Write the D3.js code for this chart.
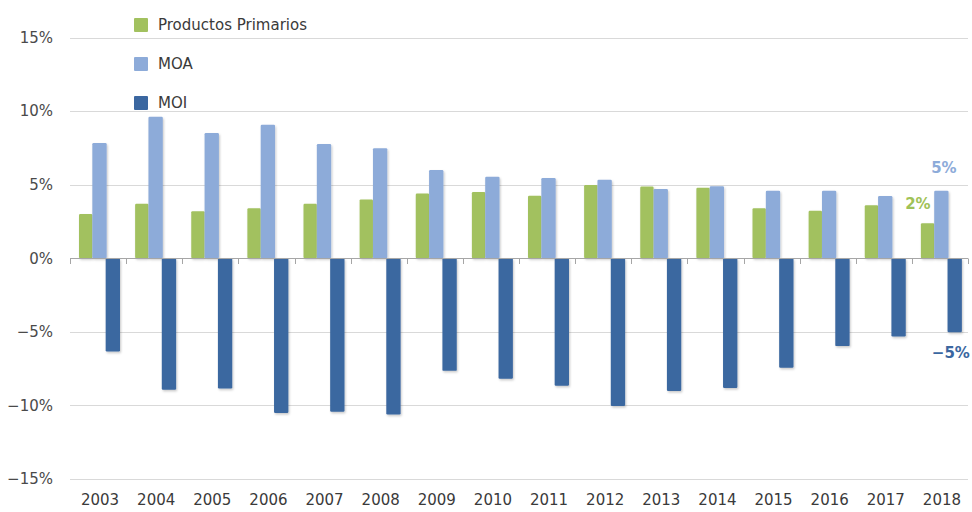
<!DOCTYPE html>
<html>
<head>
<meta charset="utf-8">
<script src="https://cdn.jsdelivr.net/npm/d3@7"></script>
<style>
  html, body { margin: 0; padding: 0; background: #fff; }
  svg { display: block; font-family: "DejaVu Sans", sans-serif; }
</style>
</head>
<body>
<svg id="chart" width="972" height="512"></svg>
<script>
const years = ["2003","2004","2005","2006","2007","2008","2009","2010","2011","2012","2013","2014","2015","2016","2017","2018"];
const seriesNames = ["Productos Primarios", "MOA", "MOI"];
const primarios = [3.0, 3.7, 3.2, 3.4, 3.7, 4.0, 4.4, 4.5, 4.25, 4.97, 4.88, 4.79, 3.39, 3.23, 3.6, 2.37];
const moa = [7.83, 9.61, 8.51, 9.07, 7.76, 7.48, 5.99, 5.54, 5.45, 5.33, 4.7, 4.89, 4.59, 4.59, 4.23, 4.59];
const moi = [-6.34, -8.93, -8.85, -10.52, -10.43, -10.61, -7.65, -8.19, -8.66, -10.04, -9.02, -8.82, -7.44, -5.97, -5.32, -5.02];
const yTicks = [-15, -10, -5, 0, 5, 10, 15];
const endLabels = [
  {series: "MOA", text: "5%"},
  {series: "Productos Primarios", text: "2%"},
  {series: "MOI", text: "\u22125%"}
];

const colors = {"Productos Primarios": "#a2c15f", "MOA": "#8dabd9", "MOI": "#3b67a0"};
const labelColors = {"Productos Primarios": "#9fc257", "MOA": "#8dabd9", "MOI": "#3b67a0"};
const values = {"Productos Primarios": primarios, "MOA": moa, "MOI": moi};

const svg = d3.select("#chart");
const defs = svg.append("defs");
const f = defs.append("filter").attr("id", "sh").attr("x", "-20%").attr("y", "-20%").attr("width", "150%").attr("height", "150%");
f.append("feDropShadow").attr("dx", 1).attr("dy", 1.5).attr("stdDeviation", 1.2).attr("flood-color", "#000").attr("flood-opacity", 0.22);

const x0 = d3.scaleBand().domain(years).range([70, 968]).padding(0);
const x1 = d3.scaleBand().domain(seriesNames).range([9, 49]).padding(0);
const y = d3.scaleLinear().domain([-15, 15]).range([479, 37.5]);

// gridlines
svg.append("g").selectAll("line").data(yTicks.filter(d => d !== 0)).join("line")
  .attr("x1", 70).attr("x2", 968)
  .attr("y1", d => Math.round(y(d)) + 0.5).attr("y2", d => Math.round(y(d)) + 0.5)
  .attr("stroke", "#d9d9d9").attr("stroke-width", 1);

// y labels
svg.append("g").selectAll("text").data(yTicks).join("text")
  .attr("x", 53).attr("y", d => y(d)).attr("dy", "0.35em")
  .attr("text-anchor", "end").attr("font-size", 15).attr("fill", "#4a4a4a")
  .text(d => (d < 0 ? "\u2212" + Math.abs(d) : d) + "%");

// bars
const groups = svg.append("g").selectAll("g").data(years).join("g")
  .attr("transform", d => `translate(${x0(d)},0)`);
groups.selectAll("rect").data((d, i) => seriesNames.map(s => ({s, v: values[s][i]}))).join("rect")
  .attr("x", d => x1(d.s))
  .attr("width", d => x1.bandwidth() + (d.s === "Productos Primarios" ? 0 : 1))
  .attr("y", d => d.v >= 0 ? y(d.v) : y(0))
  .attr("height", d => Math.abs(y(d.v) - y(0)))
  .attr("rx", 1.2)
  .attr("fill", d => colors[d.s])
  .attr("filter", "url(#sh)");

// zero axis line and ticks
svg.append("line").attr("x1", 70).attr("x2", 968).attr("y1", Math.round(y(0)) + 0.5).attr("y2", Math.round(y(0)) + 0.5)
  .attr("stroke", "#a6a6a6").attr("stroke-width", 1);
const tickPos = years.map(d => x0(d)).concat([968]);
svg.append("g").selectAll("line").data(tickPos).join("line")
  .attr("x1", d => Math.round(d) + 0.5).attr("x2", d => Math.round(d) + 0.5)
  .attr("y1", Math.round(y(0)) + 0.5).attr("y2", Math.round(y(0)) + 6)
  .attr("stroke", "#a6a6a6").attr("stroke-width", 1);

// x labels
svg.append("g").selectAll("text").data(years).join("text")
  .attr("x", d => x0(d) + x0.bandwidth() / 2 + 2).attr("y", 505)
  .attr("text-anchor", "middle").attr("font-size", 15).attr("fill", "#3a3a3a")
  .text(d => d);

// legend
const legend = svg.append("g").selectAll("g").data(seriesNames).join("g")
  .attr("transform", (d, i) => `translate(134,${18 + i * 39})`);
legend.append("rect").attr("width", 14).attr("height", 14).attr("rx", 1).attr("fill", d => colors[d]);
legend.append("text").attr("x", 24).attr("y", 7).attr("dy", "0.35em")
  .attr("font-size", 15).attr("fill", "#3a3a3a").text(d => d);

// end labels
const last = years.length - 1;
const lastX = x0(years[last]);
const labelPos = {
  "MOA": {dx: 32, dy: -23, anchor: "middle"},
  "Productos Primarios": {dx: 6, dy: -20, anchor: "middle"},
  "MOI": {dx: 58, dy: 21, anchor: "end"}
};
svg.append("g").selectAll("text").data(endLabels).join("text")
  .attr("x", d => lastX + labelPos[d.series].dx)
  .attr("y", d => y(values[d.series][last]) + labelPos[d.series].dy)
  .attr("dy", "0.35em")
  .attr("text-anchor", d => labelPos[d.series].anchor)
  .attr("font-size", 15).attr("font-weight", "bold")
  .attr("fill", d => labelColors[d.series])
  .text(d => d.text);
</script>
</body>
</html>
